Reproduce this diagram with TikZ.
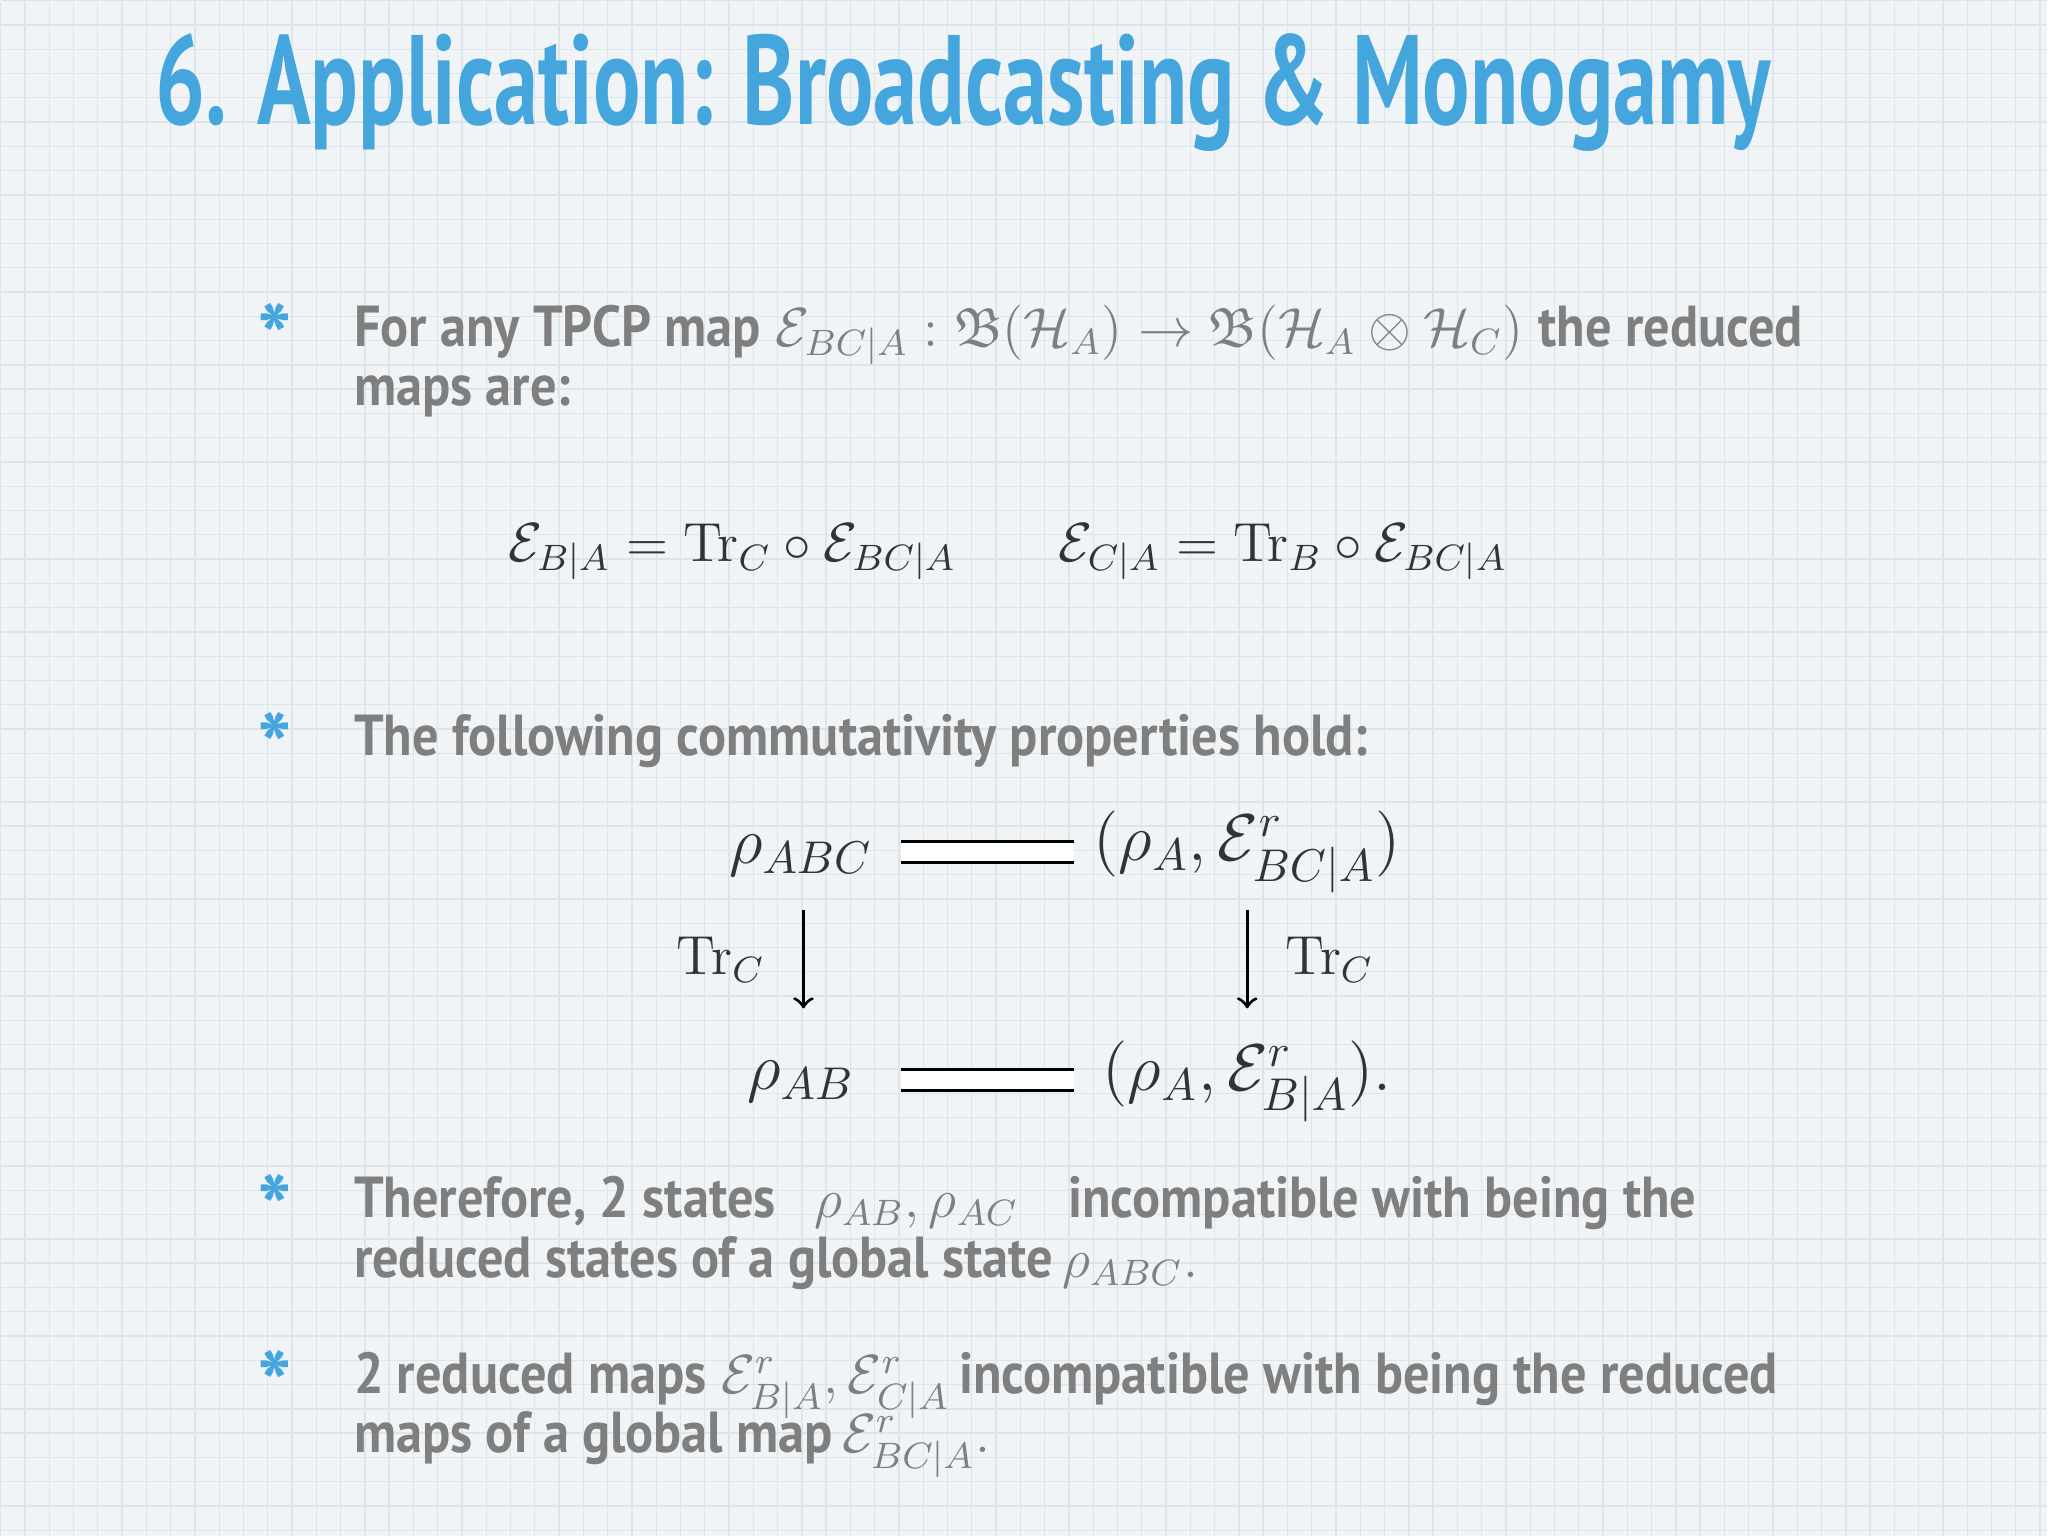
\documentclass[tikz,border=0pt]{standalone}
\usepackage{amsmath,amssymb,graphicx}
\usepackage[no-math]{fontspec}
\setmainfont{PT Sans}
\definecolor{ttl}{HTML}{45A5DD}
\definecolor{gry}{HTML}{7F7F7F}
\definecolor{bg}{HTML}{F1F4F6}
\definecolor{gl}{HTML}{DCE5EA}
\newcommand{\tx}[1]{\scalebox{0.95}[1.05]{\bfseries #1}}
\tikzset{
 line/.style={anchor=base west,inner sep=0pt,text=gry,font=\fontsize{12}{14}\selectfont},
 bul/.style={text=ttl,font=\fontsize{20}{20}\selectfont\bfseries,inner sep=0pt},
 mth/.style={inner sep=0pt,font=\fontsize{12}{15}\selectfont,text=black!80},
 dmth/.style={inner sep=0pt,font=\fontsize{14}{17}\selectfont,text=black!80}
}
\begin{document}
\begin{tikzpicture}[x=0.01cm,y=-0.01cm]
\fill[bg] (0,0) rectangle (1568,1176);
\foreach \i in {0,...,84} {\draw[gl,line width=0.3pt] (\i*18.6,0) -- (\i*18.6,1176);}
\foreach \i in {0,...,63} {\draw[gl,line width=0.3pt] (0,\i*18.6) -- (1568,\i*18.6);}
\useasboundingbox (0,0) rectangle (1568,1176);
\node[anchor=base west,inner sep=0pt,text=ttl] (title) at (118,95)
  {\resizebox{12.37cm}{!}{\scalebox{0.8}[1.15]{\fontsize{23}{26}\selectfont\bfseries 6. Application: Broadcasting \& Monogamy}}};
% bullet 1
\node[bul] (b1) at (210,258) {*};
\node[line] (l1a) at (270,265) {\tx{For any TPCP map} $\mathcal{E}_{BC|A}:\mathfrak{B}(\mathcal{H}_A)\to\mathfrak{B}(\mathcal{H}_A\otimes\mathcal{H}_C)$ \tx{the reduced}};
\node[line] (l1b) at (270,310) {\tx{maps are:}};
\node[mth,anchor=base west] (eq1) at (388,430) {$\mathcal{E}_{B|A}=\mathrm{Tr}_C\circ\mathcal{E}_{BC|A}$};
\node[mth,anchor=base west] (eq2) at (810,430) {$\mathcal{E}_{C|A}=\mathrm{Tr}_B\circ\mathcal{E}_{BC|A}$};
% bullet 2
\node[bul] (b2) at (210,571) {*};
\node[line] (l2) at (270,578) {\tx{The following commutativity properties hold:}};
\node[dmth] (tl) at (613,655) {$\rho_{ABC}$};
\node[dmth] (tr) at (955,652) {$(\rho_A,\mathcal{E}^r_{BC|A})$};
\node[dmth] (bl) at (613,828) {$\rho_{AB}$};
\node[dmth] (br) at (955,828) {$(\rho_A,\mathcal{E}^r_{B|A}).$};
\draw[double,double distance=4pt,line width=0.6pt] (690,652) -- (822,652);
\draw[double,double distance=4pt,line width=0.6pt] (690,827) -- (822,827);
\draw[->,line width=0.7pt] (615,697) -- (615,772) node[midway,left=8pt,mth] {$\mathrm{Tr}_C$};
\draw[->,line width=0.7pt] (955,697) -- (955,772) node[midway,right=8pt,mth] {$\mathrm{Tr}_C$};
% bullet 3
\node[bul] (b3) at (210,925) {*};
\node[line] (l3a) at (270,932) {\tx{Therefore, 2 states}\hspace{0.7em}$\rho_{AB},\rho_{AC}$\hspace{0.9em}\tx{incompatible with being the}};
\node[line] (l3b) at (270,978) {\tx{reduced states of a global state}\,$\rho_{ABC}.$};
% bullet 4
\node[bul] (b4) at (210,1060) {*};
\node[line] (l4a) at (270,1067) {\tx{2 reduced maps} $\mathcal{E}^r_{B|A},\mathcal{E}^r_{C|A}$\,\tx{incompatible with being the reduced}};
\node[line] (l4b) at (270,1112) {\tx{maps of a global map}\,$\mathcal{E}^r_{BC|A}.$};
\end{tikzpicture}
\end{document}
